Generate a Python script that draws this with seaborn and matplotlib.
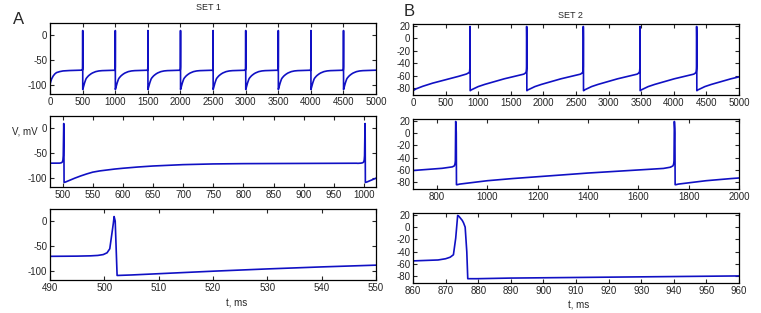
import numpy as np
import matplotlib
matplotlib.use("Agg")
import matplotlib.pyplot as plt
import seaborn as sns

sns.set_style("ticks")
plt.rcParams["font.family"] = ["Liberation Sans", "DejaVu Sans"]
plt.rcParams["axes.unicode_minus"] = False

# SET 1: spike peak times (ms) and one cycle read relative to the peak
set1_peaks = [501.8, 1001.8, 1501.8, 2001.8, 2501.8, 3001.8, 3501.8, 4001.8, 4501.8]
set1_cycle_dt = [-11.8, -6.8, -4.3, -3.0, -2.0, -1.3, -0.8, -0.5, -0.15, 0, 0.2, 0.4, 0.55,
                 3.2, 8.2, 18.2, 28.2, 38.2, 48.2, 60, 73, 85, 98, 123, 148, 198, 248, 298, 398, 486]
set1_cycle_v = [-70, -69.6, -69, -68.2, -66.5, -63, -55, -32, -5, 9, 0, -60, -108,
                -107, -104.5, -99.5, -95, -91, -87.5, -85, -83, -81.3, -79.8, -77.3, -75.3,
                -72.6, -71.2, -70.6, -70.1, -69.8]
set1_start_t = [0, 10, 25, 50, 75, 100, 150, 200, 300, 400, 489]
set1_start_v = [-98, -93, -87, -81, -77, -74.5, -72.5, -71.2, -70.4, -70.1, -70]
set1_end_t = [5000]
set1_end_v = [-69.7]

# SET 2
set2_peaks = [873.7, 1743, 2612, 3481, 4350]
set2_cycle_dt = [-13.7, -6, -3.7, -2.3, -1.3, -0.6, 0, 0.4, 0.8, 1.4, 1.8, 2.3, 2.8, 3.1, 6, 16,
                 46, 86, 126, 226, 326, 526, 726, 826, 855]
set2_cycle_v = [-55, -53.5, -51.5, -49, -45, -18, 19, 17.5, 15, 11, 7, 0, -40, -84, -84, -83,
                -81.5, -79.5, -77.5, -74, -71, -65, -60, -57.5, -55.4]
set2_start_t = [0, 50, 150, 300, 500, 700, 820, 859]
set2_start_v = [-84, -81, -77, -72, -66.5, -61, -57.3, -55.2]

line_color = "#1010c4"


def build(start_t, start_v, peaks, dt, v, end_t=(), end_v=()):
    t_all = list(start_t)
    v_all = list(start_v)
    for p in peaks:
        t_all += [p + d for d in dt]
        v_all += list(v)
    t_all += list(end_t)
    v_all += list(end_v)
    return np.array(t_all), np.array(v_all)


t1, v1 = build(set1_start_t, set1_start_v, set1_peaks, set1_cycle_dt, set1_cycle_v,
               set1_end_t, set1_end_v)
t2, v2 = build(set2_start_t, set2_start_v, set2_peaks, set2_cycle_dt, set2_cycle_v)

fig = plt.figure(figsize=(7.61, 3.13), dpi=100)

W, H = 761, 313


def add_ax(x0, x1, y0, y1):
    return fig.add_axes([x0 / W, 1 - y1 / H, (x1 - x0) / W, (y1 - y0) / H])


panels = [
    # set, pixel box, xlim, xticks, ylim, yticks
    (1, (50, 376, 23, 94), (0, 5000), np.arange(0, 5001, 500), (-117, 24), [-100, -50, 0]),
    (1, (50, 376, 116, 187), (479, 1020), np.arange(500, 1001, 50), (-117, 24), [-100, -50, 0]),
    (1, (50, 376, 209, 280), (490, 550), np.arange(490, 551, 10), (-117, 24), [-100, -50, 0]),
    (2, (413, 739, 24, 95), (0, 5000), np.arange(0, 5001, 500), (-91, 23), np.arange(-80, 21, 20)),
    (2, (413, 739, 119, 189), (704, 2000), np.arange(800, 2001, 200), (-91, 23), np.arange(-80, 21, 20)),
    (2, (413, 739, 213, 283), (860, 960), np.arange(860, 961, 10), (-91, 23), np.arange(-80, 21, 20)),
]

for s, box, xl, xt, yl, yt in panels:
    ax = add_ax(*box)
    t, v = (t1, v1) if s == 1 else (t2, v2)
    sns.lineplot(x=t, y=v, ax=ax, color=line_color, linewidth=1.2,
                 sort=False, estimator=None)
    ax.set_xlim(*xl)
    ax.set_ylim(*yl)
    ax.set_xticks(xt)
    ax.set_yticks(yt)
    ax.set_xlabel("")
    ax.set_ylabel("")
    ax.tick_params(direction="in", length=3, width=0.8, labelsize=7,
                   top=True, right=True, pad=2)
    for sp in ax.spines.values():
        sp.set_visible(True)
        sp.set_linewidth(0.9)
        sp.set_color("black")

fig.text(19 / W, 1 - 20 / H, "A", fontsize=12, ha="center", va="center")
fig.text(409 / W, 1 - 12 / H, "B", fontsize=12, ha="center", va="center")
fig.text(208 / W, 1 - 8 / H, "SET 1", fontsize=6.5, ha="center", va="center")
fig.text(570 / W, 1 - 15 / H, "SET 2", fontsize=6.5, ha="center", va="center")
fig.text(25 / W, 1 - 131 / H, "V, mV", fontsize=7, ha="center", va="center")
fig.text(237 / W, 1 - 303 / H, "t, ms", fontsize=7, ha="center", va="center")
fig.text(579 / W, 1 - 305 / H, "t, ms", fontsize=7, ha="center", va="center")

fig.savefig("out.png", dpi=100, facecolor="white")
